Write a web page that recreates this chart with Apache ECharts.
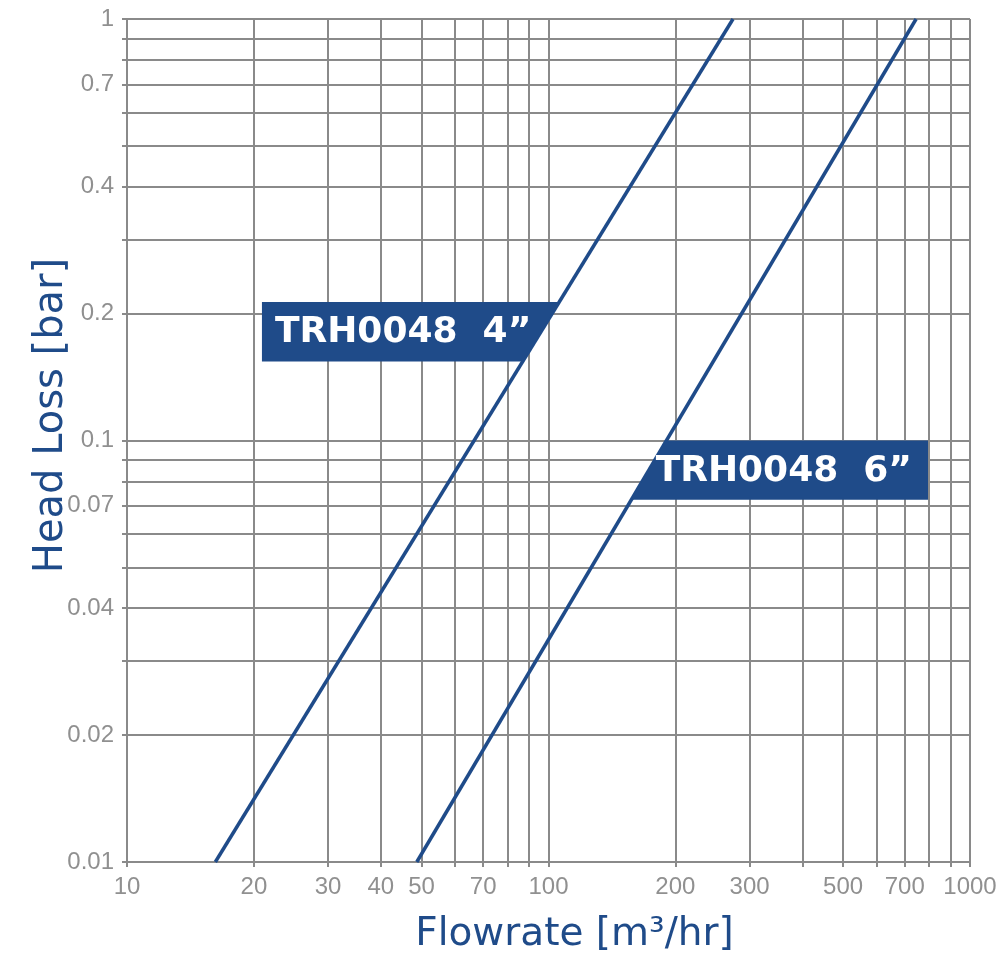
<!DOCTYPE html>
<html>
<head>
<meta charset="utf-8">
<script src="https://cdn.jsdelivr.net/npm/echarts@6/dist/echarts.min.js"></script>
<style>
html, body { margin: 0; padding: 0; background: #fff; }
#chart { width: 1000px; height: 970px; }
</style>
</head>
<body>
<div id="chart"></div>
<script>
// 两条压损曲线（对数坐标下为直线，取两端点）
const flow4 = [16.2, 274];
const loss4 = [0.01, 1];
const flow6 = [48.7, 745];
const loss6 = [0.01, 1];

// 网格线和刻度标签
const xGridValues = [10, 20, 30, 40, 50, 60, 70, 80, 90, 100, 200, 300, 400, 500, 600, 700, 800, 900, 1000];
const xLabelValues = [10, 20, 30, 40, 50, 70, 100, 200, 300, 500, 700, 1000];
const yGridValues = [0.01, 0.02, 0.03, 0.04, 0.05, 0.06, 0.07, 0.08, 0.09, 0.1, 0.2, 0.3, 0.4, 0.5, 0.6, 0.7, 0.8, 0.9, 1];
const yLabelValues = [0.01, 0.02, 0.04, 0.07, 0.1, 0.2, 0.4, 0.7, 1];

// 标签框（数据坐标）：4" 框左边、上下；6" 框右边、上下
const box4 = { left: 20.9, top: 0.213, bottom: 0.154, text: 'TRH0048  4\u201d' };
const box6 = { right: 795, top: 0.1, bottom: 0.0723, text: 'TRH0048  6\u201d' };

const gridColor = '#8a8a8a';
const blue = '#1f4b89';
const font = 'DejaVu Sans';
const tickFont = 'Liberation Sans';
const fmt = function (v) { return String(+Number(v).toPrecision(6)); };

let myChart = echarts.init(document.getElementById('chart'));

let option = {
    animation: false,
    grid: { left: 127, right: 30, top: 19, bottom: 108, outerBoundsMode: 'none', containLabel: false },
    xAxis: {
        type: 'log',
        logBase: 10,
        min: 10,
        max: 1000,
        name: 'Flowrate [m\u00b3/hr]',
        nameLocation: 'middle',
        nameGap: 53,
        nameMoveOverlap: false,
        nameTextStyle: { color: blue, fontSize: 39, fontFamily: font, padding: [0, 0, 0, 52] },
        axisLine: { lineStyle: { color: gridColor, width: 2 } },
        axisTick: { customValues: xGridValues, length: 5, lineStyle: { color: gridColor, width: 2 } },
        axisLabel: {
            customValues: xLabelValues,
            formatter: fmt,
            color: '#909090',
            fontSize: 24,
            fontFamily: tickFont,
            margin: 13
        },
        splitLine: { show: true, lineStyle: { color: gridColor, width: 2 } },
        minorTick: { show: false },
        minorSplitLine: { show: false }
    },
    yAxis: {
        type: 'log',
        logBase: 10,
        min: 0.01,
        max: 1,
        name: 'Head Loss [bar]',
        nameLocation: 'middle',
        nameGap: 55,
        nameMoveOverlap: false,
        nameTextStyle: { color: blue, fontSize: 40, fontFamily: font, padding: [0, 0, 0, 50] },
        axisLine: { show: true, lineStyle: { color: gridColor, width: 2 } },
        axisTick: { show: true, customValues: yGridValues, length: 5, lineStyle: { color: gridColor, width: 2 } },
        axisLabel: {
            customValues: yLabelValues,
            formatter: fmt,
            color: '#909090',
            fontSize: 24,
            fontFamily: tickFont,
            margin: 13
        },
        splitLine: { show: true, lineStyle: { color: gridColor, width: 2 } }
    },
    series: [
        {
            name: 'TRH0048 4"',
            type: 'line',
            symbol: 'none',
            lineStyle: { color: blue, width: 3.5 },
            data: flow4.map(function (f, i) { return [f, loss4[i]]; })
        },
        {
            name: 'TRH0048 6"',
            type: 'line',
            symbol: 'none',
            lineStyle: { color: blue, width: 3.5 },
            data: flow6.map(function (f, i) { return [f, loss6[i]]; })
        }
    ]
};

myChart.setOption(option);

// 曲线在某个像素高度处的像素 x
function lineXAt(flows, losses, py) {
    let p0 = myChart.convertToPixel({ gridIndex: 0 }, [flows[0], losses[0]]);
    let p1 = myChart.convertToPixel({ gridIndex: 0 }, [flows[1], losses[1]]);
    return p0[0] + (py - p0[1]) * (p1[0] - p0[0]) / (p1[1] - p0[1]);
}

function toPx(x, y) {
    return myChart.convertToPixel({ gridIndex: 0 }, [x, y]);
}

let a = toPx(box4.left, box4.top);
let b = toPx(box4.left, box4.bottom);
let x4t = lineXAt(flow4, loss4, a[1]);
let x4b = lineXAt(flow4, loss4, b[1]);

let c = toPx(box6.right, box6.top);
let d = toPx(box6.right, box6.bottom);
let x6t = lineXAt(flow6, loss6, c[1]);
let x6b = lineXAt(flow6, loss6, d[1]);

const boxText = { fill: '#fff', fontSize: 36, fontWeight: 'bold', fontFamily: font, verticalAlign: 'middle' };

myChart.setOption({
    graphic: [
        {
            type: 'polygon',
            shape: { points: [[a[0], a[1]], [x4t, a[1]], [x4b, b[1]], [b[0], b[1]]] },
            style: { fill: blue },
            z: 10
        },
        {
            type: 'text',
            x: a[0] + 13,
            y: (a[1] + b[1]) / 2 + 1,
            style: Object.assign({ text: box4.text, align: 'left' }, boxText),
            z: 11
        },
        {
            type: 'polygon',
            shape: { points: [[x6t, c[1]], [c[0], c[1]], [d[0], d[1]], [x6b, d[1]]] },
            style: { fill: blue },
            z: 10
        },
        {
            type: 'text',
            x: c[0] - 16,
            y: (c[1] + d[1]) / 2 + 1,
            style: Object.assign({ text: box6.text, align: 'right' }, boxText),
            z: 11
        }
    ]
});

window.addEventListener('resize', function () {
    myChart.resize();
});
</script>
</body>
</html>
